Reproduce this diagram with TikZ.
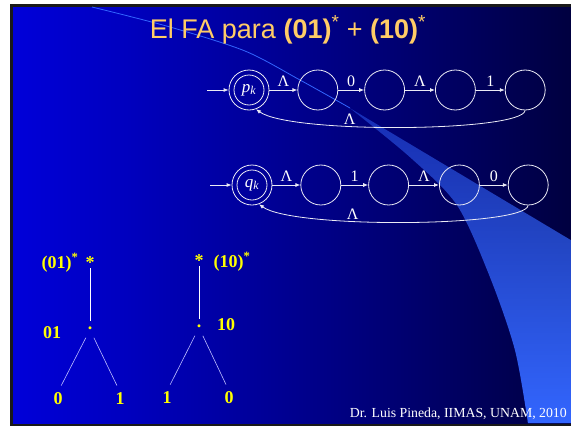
\documentclass[tikz,border=0pt]{standalone}
\usepackage{fontspec}
\setmainfont{Liberation Serif}
\newfontfamily\titlefont{Liberation Sans}
\usetikzlibrary{positioning,arrows.meta,fadings}
\definecolor{slideyellow}{RGB}{255,255,0}
\definecolor{titleorange}{RGB}{255,204,102}
\definecolor{swooshblue}{RGB}{51,102,255}
\definecolor{edgewhite}{RGB}{235,235,245}
\definecolor{leafblue}{RGB}{190,190,255}
\pgfdeclarehorizontalshading{slidebg}{100bp}{rgb(0bp)=(0,0,1); rgb(15bp)=(0,0,0.95); rgb(35bp)=(0,0,0.75); rgb(55bp)=(0,0,0.5); rgb(75bp)=(0,0,0.25); rgb(90bp)=(0,0,0.1); rgb(100bp)=(0,0,0.03)}
\tikzfading[name=swooshfade, top color=transparent!55, middle color=transparent!0, bottom color=transparent!0]

\begin{document}
\begin{tikzpicture}[x=1pt, y=-1pt,
        state/.style={circle, draw=edgewhite, line width=0.8pt, minimum size=40pt, inner sep=0pt},
        ring/.style={circle, draw=edgewhite, line width=0.8pt, minimum size=30pt, inner sep=0pt,
                     text=white, font=\fontsize{17}{19}\selectfont},
        edge/.style={draw=edgewhite, line width=0.8pt, -{Latex[length=5pt,width=4pt]}},
        lbl/.style={text=white, font=\fontsize{16}{18}\selectfont, inner sep=1pt},
        treelbl/.style={text=slideyellow, font=\fontsize{18}{20}\selectfont\bfseries, inner sep=0pt},
        treeline/.style={draw=white, line width=1pt},
        leafline/.style={draw=leafblue, line width=0.6pt}
    ]
    \useasboundingbox (0,0) rectangle (571,426);
    % slide background
    \fill[white] (0,0) rectangle (571,426);
    \fill[black!90] (10,4) rectangle (571,426);
    \shade[shading=slidebg] (13,7) rectangle (571,423);
    \fill[swooshblue, path fading=swooshfade] plot[smooth] coordinates {(350,108) (410,157) (457,205) (490,277) (515,350) (528,423)}
        -- (571,423) -- (571,240) -- cycle;
    \draw[swooshblue, line width=0.8pt] plot[smooth] coordinates {(92,7) (170,27) (245,51) (300,80) (350,108)};

    \node[font=\titlefont\fontsize{27}{30}\selectfont, text=titleorange, anchor=base] (title) at (288,38)
        {El FA para \textbf{(01)}\textsuperscript{*} + \textbf{(10)}\textsuperscript{*}};

    % automaton for (01)*
    \coordinate (pin) at (207,90);
    \node[state, label={[ring]center:\textit{p}\textsubscript{\textit{k}}}] (pk) at (249,90) {};
    \node[state, right=28pt of pk] (p1) {};
    \node[state, right=26pt of p1] (p2) {};
    \node[state, right=30pt of p2] (p3) {};
    \node[state, right=29pt of p3] (p4) {};
    \draw[edge] (pin) -- (pk);
    \draw[edge] (pk) -- node[lbl, above=2pt] {Λ} (p1);
    \draw[edge] (p1) -- node[lbl, above=2pt] {0} (p2);
    \draw[edge] (p2) -- node[lbl, above=2pt] {Λ} (p3);
    \draw[edge] (p3) -- node[lbl, above=2pt] {1} (p4);
    \draw[edge] (p4.south) .. controls (522,132) and (290,134) .. (pk.-70)
        node[lbl, pos=0.64, above=0pt] {Λ};

    % automaton for (10)*
    \coordinate (qin) at (210,185);
    \node[state, label={[ring]center:\textit{q}\textsubscript{\textit{k}}}] (qk) at (252,185) {};
    \node[state, right=28pt of qk] (q1) {};
    \node[state, right=27pt of q1] (q2) {};
    \node[state, right=30pt of q2] (q3) {};
    \node[state, right=28pt of q3] (q4) {};
    \draw[edge] (qin) -- (qk);
    \draw[edge] (qk) -- node[lbl, above=2pt] {Λ} (q1);
    \draw[edge] (q1) -- node[lbl, above=2pt] {1} (q2);
    \draw[edge] (q2) -- node[lbl, above=2pt] {Λ} (q3);
    \draw[edge] (q3) -- node[lbl, above=2pt] {0} (q4);
    \draw[edge] (q4.south) .. controls (525,227) and (293,229) .. (qk.-70)
        node[lbl, pos=0.64, above=0pt] {Λ};

    % syntax trees
    \node[treelbl, anchor=base] (e1) at (60,268) {(01)\textsuperscript{*}};
    \node[treelbl, anchor=base] (s1) at (90,268) {*};
    \node[treelbl] (d1) at (90,328) {.};
    \node[treelbl, anchor=base] (c1) at (52,338) {01};
    \node[treelbl, anchor=base] (a1) at (58,404) {0};
    \node[treelbl, anchor=base] (b1) at (120,404) {1};
    \draw[treeline, shorten >=5pt] (s1.south) -- (d1.north);
    \draw[leafline, shorten <=9pt, shorten >=7pt] (d1.south) -- (a1.north);
    \draw[leafline, shorten <=9pt, shorten >=7pt] (d1.south) -- (b1.north);

    \node[treelbl, anchor=base] (s2) at (199,266) {*};
    \node[treelbl, anchor=base] (e2) at (232,267) {(10)\textsuperscript{*}};
    \node[treelbl] (d2) at (199,326) {.};
    \node[treelbl, anchor=base] (c2) at (226,330) {10};
    \node[treelbl, anchor=base] (a2) at (167,403) {1};
    \node[treelbl, anchor=base] (b2) at (229,403) {0};
    \draw[treeline, shorten >=5pt] (s2.south) -- (d2.north);
    \draw[leafline, shorten <=9pt, shorten >=7pt] (d2.south) -- (a2.north);
    \draw[leafline, shorten <=9pt, shorten >=7pt] (d2.south) -- (b2.north);

    \node[font=\fontsize{13.8}{15}\selectfont, text=white, anchor=base east, inner sep=0pt] (foot) at (567,417)
        {Dr. Luis Pineda, IIMAS, UNAM, 2010};
\end{tikzpicture}
\end{document}
